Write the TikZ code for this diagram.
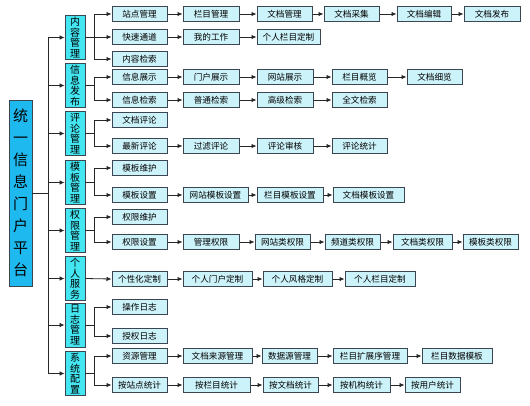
\documentclass[tikz,border=0pt]{standalone}
\usepackage{fontspec}
\setmainfont{Noto Sans CJK SC}
\usetikzlibrary{arrows.meta}
\definecolor{rootfill}{HTML}{1EB9EE}
\definecolor{lonefill}{HTML}{44E6F2}
\definecolor{boxfill}{HTML}{CDF3FA}
\definecolor{boxline}{HTML}{3C4650}
\tikzset{
  rootbox/.style={draw=boxline, line width=0.9pt, fill=rootfill, inner sep=0pt,
    minimum width=23pt, minimum height=186pt, align=center,
    font=\fontsize{15}{22}\selectfont},
  lonebox/.style={draw=boxline, line width=0.9pt, fill=lonefill, inner sep=0pt,
    minimum width=20pt, minimum height=44pt, align=center,
    font=\fontsize{10}{10.5}\selectfont},
  lbox/.style={draw=boxline, line width=1pt, fill=boxfill, inner sep=0pt,
    minimum height=15pt, font=\fontsize{8.6}{9}\selectfont},
  arr/.style={draw=black!85, line width=0.8pt, -{Latex[length=5pt,width=4.5pt]}},
}
\newcommand\bx[5]{\node[lbox, minimum width={(#3-#2)*1pt}] (#1) at ({(#2+#3)/2},#4) {#5};}
\begin{document}
\begin{tikzpicture}[x=1pt,y=-1pt]
\useasboundingbox (0,0) rectangle (530,405);
% root
\node[rootbox] (root) at (20.5,193) {统\\一\\信\\息\\门\\户\\平\\台};
% level 1
\node[lonebox] (A) at (75,37.5) {内\\容\\管\\理};
\node[lonebox] (B) at (75,85.5) {信\\息\\发\\布};
\node[lonebox] (C) at (75,133.5) {评\\论\\管\\理};
\node[lonebox] (D) at (75,182.5) {模\\板\\管\\理};
\node[lonebox] (E) at (75,230.5) {权\\限\\管\\理};
\node[lonebox] (F) at (75,278.5) {个\\人\\服\\务};
\node[lonebox] (G) at (75,325) {日\\志\\管\\理};
\node[lonebox] (H) at (75,373.5) {系\\统\\配\\置};
\foreach \n in {A,B,C,D,E,F,G,H}
  \draw[arr] (root.east) -- ++(16,0) |- (\n.west);
% level 2
\bx{A1}{112}{167}{14}{站点管理}
\bx{A2}{112}{167}{37}{快速通道}
\bx{A3}{112}{167}{59}{内容检索}
\bx{B1}{112}{167}{77}{信息展示}
\bx{B2}{112}{167}{100}{信息检索}
\bx{C1}{112}{167}{120}{文档评论}
\bx{C2}{112}{167}{146}{最新评论}
\bx{D1}{112}{167}{168}{模板维护}
\bx{D2}{112}{167}{195}{模板设置}
\bx{E1}{112}{167}{217}{权限维护}
\bx{E2}{112}{167}{242}{权限设置}
\bx{F1}{112}{167}{279}{个性化定制}
\bx{G1}{112}{167}{307}{操作日志}
\bx{G2}{112}{167}{336}{授权日志}
\bx{H1}{112}{167}{356}{资源管理}
\bx{H2}{112}{167}{385}{按站点统计}
\foreach \p/\c in {A/A1,A/A2,A/A3,B/B1,B/B2,C/C1,C/C2,D/D1,D/D2,E/E1,E/E2,G/G1,G/G2,H/H1,H/H2}
  \draw[arr] (\p.east) -- ++(9,0) |- (\c.west);
\draw[arr] (F.east) -- (F1.west);
% row A1
\bx{A1a}{183}{239}{14}{栏目管理}
\bx{A1b}{257}{312}{14}{文档管理}
\bx{A1c}{324}{379}{14}{文档采集}
\bx{A1d}{397}{451}{14}{文档编辑}
\bx{A1e}{464}{520}{14}{文档发布}
% row A2
\bx{A2a}{183}{239}{37}{我的工作}
\bx{A2b}{257}{320}{37}{个人栏目定制}
% row B1
\bx{B1a}{183}{239}{77}{门户展示}
\bx{B1b}{257}{313}{77}{网站展示}
\bx{B1c}{332}{387}{77}{栏目概览}
\bx{B1d}{407}{462}{77}{文档细览}
% row B2
\bx{B2a}{183}{239}{100}{普通检索}
\bx{B2b}{257}{313}{100}{高级检索}
\bx{B2c}{332}{387}{100}{全文检索}
% row C2
\bx{C2a}{183}{239}{146}{过滤评论}
\bx{C2b}{257}{313}{146}{评论审核}
\bx{C2c}{332}{387}{146}{评论统计}
% row D2
\bx{D2a}{183}{248}{195}{网站模板设置}
\bx{D2b}{257}{323}{195}{栏目模板设置}
\bx{D2c}{333}{404}{195}{文档模板设置}
% row E2
\bx{E2a}{183}{239}{242}{管理权限}
\bx{E2b}{255}{310}{242}{网站类权限}
\bx{E2c}{325}{380}{242}{频道类权限}
\bx{E2d}{393}{452}{242}{文档类权限}
\bx{E2e}{463}{518}{242}{模板类权限}
% row F1
\bx{F1a}{183}{252}{279}{个人门户定制}
\bx{F1b}{263}{332}{279}{个人风格定制}
\bx{F1c}{345}{415}{279}{个人栏目定制}
% row H1
\bx{H1a}{183}{252}{356}{文档来源管理}
\bx{H1b}{262}{317}{356}{数据源管理}
\bx{H1c}{333}{407}{356}{栏目扩展序管理}
\bx{H1d}{422}{492}{356}{栏目数据模板}
% row H2
\bx{H2a}{183}{250}{385}{按栏目统计}
\bx{H2b}{263}{318}{385}{按文档统计}
\bx{H2c}{333}{390}{385}{按机构统计}
\bx{H2d}{405}{460}{385}{按用户统计}
% chains
\foreach \a/\b in {A1/A1a,A1a/A1b,A1b/A1c,A1c/A1d,A1d/A1e,
  A2/A2a,A2a/A2b,
  B1/B1a,B1a/B1b,B1b/B1c,B1c/B1d,
  B2/B2a,B2a/B2b,B2b/B2c,
  C2/C2a,C2a/C2b,C2b/C2c,
  D2/D2a,D2a/D2b,D2b/D2c,
  E2/E2a,E2a/E2b,E2b/E2c,E2c/E2d,E2d/E2e,
  F1/F1a,F1a/F1b,F1b/F1c,
  H1/H1a,H1a/H1b,H1b/H1c,H1c/H1d,
  H2/H2a,H2a/H2b,H2b/H2c,H2c/H2d}
  \draw[arr] (\a.east) -- (\b.west);
\end{tikzpicture}
\end{document}
